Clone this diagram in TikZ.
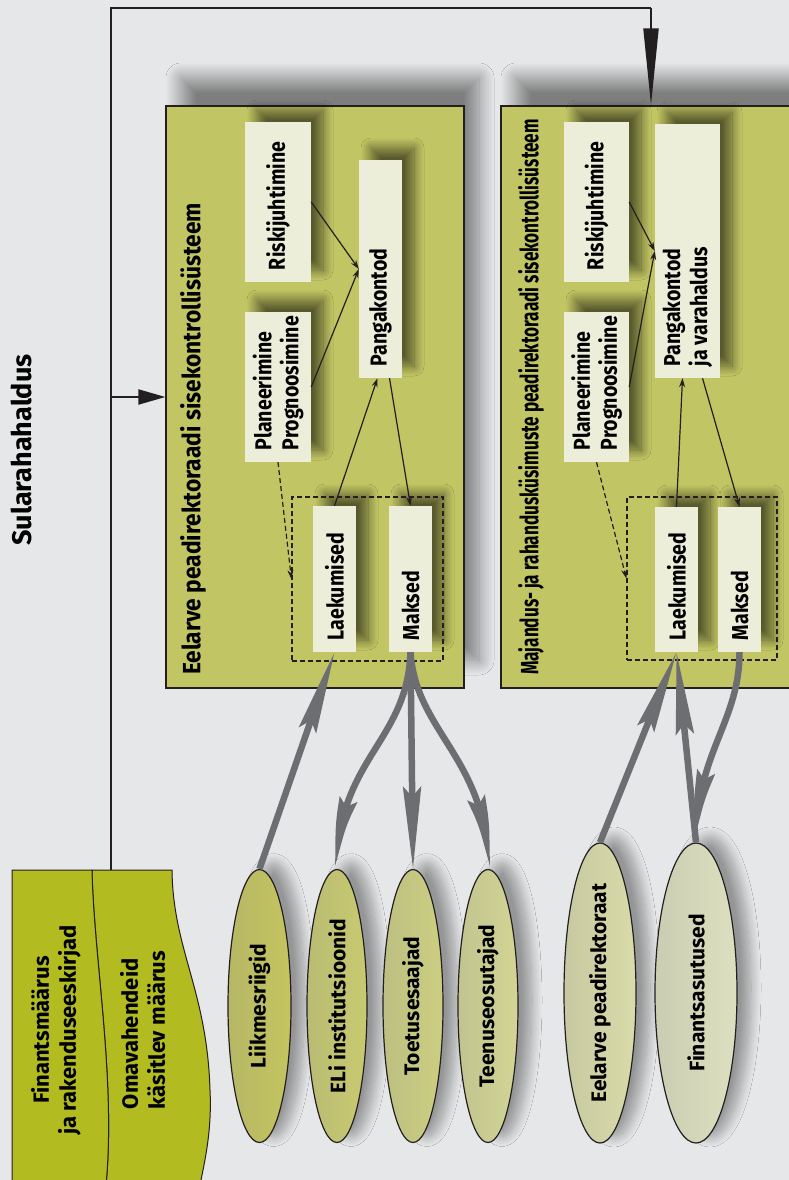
\documentclass[tikz,border=0pt]{standalone}
\usepackage{fontspec}
\setmainfont{Fira Sans}
\newfontfamily\boxfont[FakeStretch=0.85]{Fira Sans}
\newfontfamily\ttlfont[FakeStretch=0.91]{Fira Sans}
\newfontfamily\ttlnarrow[FakeStretch=0.685]{Fira Sans}
\usetikzlibrary{
  positioning,
  arrows.meta,
  bending,
  shapes.geometric,
  shadows.blur
}
\definecolor{paper}{HTML}{E6E7E8}
\definecolor{ink}{HTML}{231F20}
\definecolor{boxgreen}{HTML}{C2C563}
\definecolor{cream}{HTML}{ECEED9}
\definecolor{docgreen}{HTML}{B2BB1F}
\definecolor{flow}{HTML}{6D6E71}
\definecolor{ovA}{HTML}{C4C55F}
\definecolor{ovB}{HTML}{C8CA70}
\definecolor{ovC}{HTML}{CCCF81}
\definecolor{ovD}{HTML}{D2D594}
\definecolor{ovE}{HTML}{D9DBA9}
\definecolor{ovF}{HTML}{DDE0BF}
\newcommand{\vtxt}[2]{\rotatebox{90}{\parbox{#1}{\raggedright\hyphenpenalty=10000\relax #2}}}

\begin{document}
\begin{tikzpicture}[x=1pt, y=-1pt,
  frameline/.style={draw=ink, line width=2pt},
  bigbox/.style={draw=ink, line width=1.2pt, fill=boxgreen, inner sep=0pt,
    blur shadow={shadow xshift=15pt, shadow yshift=28pt, shadow blur radius=15pt,
      shadow blur steps=24, shadow opacity=45}},
  ttl/.style={inner sep=0pt, anchor=south, font=\ttlfont\bfseries\fontsize{25}{29}\selectfont},
  inbox/.style={fill=cream, inner sep=0pt, font=\boxfont\bfseries\fontsize{23}{27}\selectfont,
    blur shadow={shadow xshift=12pt, shadow yshift=12pt, shadow blur radius=10pt,
      shadow blur steps=16, shadow opacity=55}},
  dashbox/.style={draw=ink, line width=1.2pt, dash pattern=on 5pt off 3pt, inner sep=0pt},
  conn/.style={draw=ink, line width=1.2pt, -{Stealth[length=9pt, width=6pt]}},
  dconn/.style={conn, dash pattern=on 5pt off 3pt},
  agent/.style={ellipse, draw=ink, line width=1.2pt, inner sep=0pt, inner ysep=-30pt,
    minimum width=60pt, minimum height=273pt, left color=#1!80!gray, right color=#1,
    font=\bfseries\fontsize{21}{25}\selectfont,
    blur shadow={shadow xshift=14pt, shadow yshift=6pt, shadow blur radius=10pt,
      shadow blur steps=16, shadow opacity=35}},
  doc/.style={draw=ink, line width=1pt, fill=docgreen},
  doctext/.style={inner sep=0pt, font=\bfseries\fontsize{22}{27}\selectfont},
  flowarr/.style={draw=flow, line width=6.5pt, -{Stealth[length=82pt, width=18pt, inset=10pt]}},
  flowbend/.style={draw=flow, line width=6.5pt, -{Stealth[length=82pt, width=18pt, inset=10pt, bend]}}
]
  \useasboundingbox (0,0) rectangle (789,1180);
  \clip (0,0) rectangle (789,1180);
  \fill[paper] (0,0) rectangle (789,1180);

  \node[inner sep=0pt, font=\bfseries\fontsize{27}{32}\selectfont] (title) at (21,450)
    {\rotatebox{90}{Sularahahaldus}};

  % the two control systems
  \node[bigbox, minimum width=298pt, minimum height=582pt] (eelbox) at (315,397) {};
  \node[bigbox, minimum width=309pt, minimum height=582pt] (majbox) at (655.5,397) {};
  \node[ttl] (eelttl) at (193,675)
    {\rotatebox{90}{Eelarve peadirektoraadi sisekontrollisüsteem}};
  \node[ttl, font=\ttlnarrow\bfseries\fontsize{25}{29}\selectfont] (majttl) at (531,675)
    {\rotatebox{90}{Majandus- ja rahandusküsimuste peadirektoraadi sisekontrollisüsteem}};

  % frame
  \coordinate (topL) at (111,8);
  \coordinate (topR) at (651,8);
  \coordinate (docTop) at (111,870);
  \draw[frameline] (docTop) -- (topL) -- (topR);
  \draw[frameline, -{Triangle[length=27pt, width=15pt]}] (topL |- eelbox.west) -- (eelbox.west);
  \draw[frameline, -{Triangle[length=77pt, width=15pt]}] (topR) -- (topR |- majbox.north);

  % budget DG
  \node[inbox, minimum width=66pt, minimum height=160pt] (risk) at (278,202) {\vtxt{136pt}{Riskijuhtimine}};
  \node[inbox, minimum width=66pt, minimum height=150pt] (plan) at (278,387) {\vtxt{126pt}{Planeerimine\\Prognoosimine}};
  \node[inbox, minimum width=43pt, minimum height=218pt] (panga) at (380.5,269) {\vtxt{194pt}{Pangakontod}};
  \node[inbox, minimum width=43pt, minimum height=146pt] (laek) at (334.5,579) {\vtxt{122pt}{Laekumised}};
  \node[inbox, minimum width=43pt, minimum height=146pt] (maksed) at (410.5,579) {\vtxt{122pt}{Maksed}};
  \node[dashbox, minimum width=151pt, minimum height=164pt] (kassa) at (367.5,579) {};

  % economic and financial affairs DG
  \node[inbox, minimum width=65pt, minimum height=160pt] (risk2) at (596.5,202) {\vtxt{136pt}{Riskijuhtimine}};
  \node[inbox, minimum width=65pt, minimum height=150pt] (plan2) at (596.5,387) {\vtxt{126pt}{Planeerimine\\Prognoosimine}};
  \node[inbox, minimum width=65pt, minimum height=254pt] (panga2) at (687.5,251) {\vtxt{230pt}{Pangakontod\\ja varahaldus}};
  \node[inbox, minimum width=43pt, minimum height=145pt] (laek2) at (676.5,579.5) {\vtxt{121pt}{Laekumised}};
  \node[inbox, minimum width=43pt, minimum height=145pt] (maksed2) at (739.5,579.5) {\vtxt{121pt}{Maksed}};
  \node[dashbox, minimum width=150pt, minimum height=163pt] (kassa2) at (702,578.5) {};

  \draw[conn] (risk.east) -- (panga.west);
  \draw[conn] (plan.east) -- (panga.west);
  \draw[conn] (laek.north) -- ([xshift=-3pt]panga.south);
  \draw[conn] ([xshift=9pt]panga.south) -- (maksed.north);
  \draw[dconn] (plan.south) -- (kassa.west);

  \draw[conn] (risk2.east) -- (panga2.west);
  \draw[conn] (plan2.east) -- (panga2.west);
  \draw[conn] (laek2.north) -- ([xshift=-5pt]panga2.south);
  \draw[conn] ([xshift=15pt]panga2.south) -- (maksed2.north);
  \draw[dconn] (plan2.south) -- (kassa2.west);

  % legal documents
  \draw[doc] (92,870) -- (172,870) .. controls (173,950) and (207,990) .. (210,1090)
    .. controls (212,1130) and (205,1160) .. (200,1185) -- (106,1185)
    .. controls (116,1080) and (94,960) .. (92,870) -- cycle;
  \draw[doc] (12,870) -- (92,870) .. controls (94,960) and (116,1080) .. (106,1185)
    -- (12,1185) -- cycle;
  \node[doctext] (fin) at (57,1030)
    {\rotatebox{90}{\begin{tabular}{@{}c@{}}Finantsmäärus\\ja rakenduseeskirjad\end{tabular}}};
  \node[doctext] (omav) at (146,1030)
    {\rotatebox{90}{\begin{tabular}{@{}l@{}}Omavahendeid\\käsitlev määrus\end{tabular}}};

  % partners
  \node[agent=ovA, minimum width=63pt] (liik) at (259.5,1006) {\rotatebox{90}{Liikmesriigid}};
  \node[agent=ovB] (eli) at (337,1006) {\rotatebox{90}{ELi institutsioonid}};
  \node[agent=ovC] (toe) at (413,1006) {\rotatebox{90}{Toetusesaajad}};
  \node[agent=ovD] (teen) at (488,1006) {\rotatebox{90}{Teenuseosutajad}};
  \node[agent=ovE, minimum width=72pt, minimum height=300pt] (eelp) at (600,993) {\rotatebox{90}{Eelarve peadirektoraat}};
  \node[agent=ovF, minimum width=82pt, minimum height=300pt] (fina) at (696,993) {\rotatebox{90}{Finantsasutused}};

  % cash flows
  \draw[flowarr] (liik.north) -- (laek.south);
  \draw[flowbend] (maksed.south) .. controls +(-3,90) and +(0,-110) .. (eli.north);
  \draw[flowarr] (maksed.south) -- (toe.north);
  \draw[flowbend] (maksed.south) .. controls +(5,80) and +(0,-110) .. (teen.north);
  \draw[flowarr] (eelp.north) -- (laek2.south);
  \draw[flowarr] (fina.north) -- (laek2.south);
  \draw[flowbend] (maksed2.south) .. controls +(0,70) and +(0,-90) .. (fina.north);
\end{tikzpicture}
\end{document}
